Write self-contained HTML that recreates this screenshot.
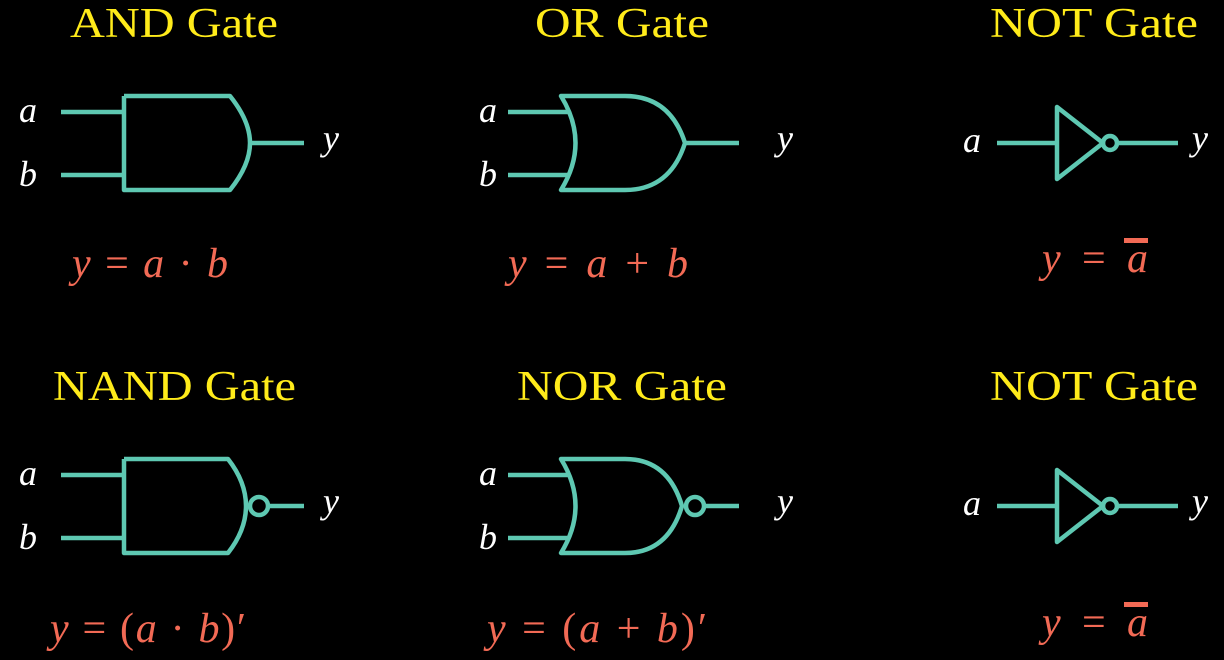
<!DOCTYPE html>
<html><head><meta charset="utf-8"><style>
html,body{margin:0;padding:0;background:#000;}
svg{display:block}
.t{font-family:"Liberation Serif",serif;fill:#ffeb1a;font-size:42px}
.l{font-family:"Liberation Serif",serif;font-style:italic;fill:#fff;font-size:36px;text-anchor:middle}
.e{font-family:"Liberation Serif",serif;fill:#f26a55;font-size:42px}
.g{fill:none;stroke:#5ec8b2;stroke-width:4.5;stroke-linejoin:round}
</style></head><body>
<svg width="1224" height="660" viewBox="0 0 1224 660">
<rect width="1224" height="660" fill="#000"/>
<text class="t" x="70" y="37" textLength="208" lengthAdjust="spacingAndGlyphs">AND Gate</text>
<text class="t" x="535" y="37" textLength="174" lengthAdjust="spacingAndGlyphs">OR Gate</text>
<text class="t" x="990" y="37" textLength="208" lengthAdjust="spacingAndGlyphs">NOT Gate</text>
<text class="t" x="53" y="400" textLength="243" lengthAdjust="spacingAndGlyphs">NAND Gate</text>
<text class="t" x="517" y="400" textLength="210" lengthAdjust="spacingAndGlyphs">NOR Gate</text>
<text class="t" x="990" y="400" textLength="208" lengthAdjust="spacingAndGlyphs">NOT Gate</text>

<!-- AND -->
<g class="g">
<path d="M61 112H124M61 175H124M124 96V190H230Q250 165 250 143Q250 121 230 96H124M250 143H304"/>
</g>
<text class="l" x="28" y="122">a</text><text class="l" x="28" y="186">b</text><text class="l" x="331" y="150">y</text>
<text class="e" x="72" y="277" textLength="156" lengthAdjust="spacing"><tspan font-style="italic">y</tspan> = <tspan font-style="italic">a</tspan> · <tspan font-style="italic">b</tspan></text>

<!-- OR -->
<g class="g">
<path d="M508 112H570M508 175H570M561 96Q590 143 561 190H625Q670 190 685 143Q670 96 625 96Z M685 143H739"/>
</g>
<text class="l" x="488" y="122">a</text><text class="l" x="488" y="186">b</text><text class="l" x="785" y="150">y</text>
<text class="e" x="508" y="277" textLength="180" lengthAdjust="spacing"><tspan font-style="italic">y</tspan> = <tspan font-style="italic">a</tspan> + <tspan font-style="italic">b</tspan></text>

<!-- NOT -->
<g class="g">
<path d="M997 143H1057M1057 107V179L1103 143Z M1117 143H1178"/>
<circle cx="1110" cy="143" r="7"/>
</g>
<text class="l" x="972" y="152">a</text><text class="l" x="1200" y="150">y</text>
<text class="e" x="1042" y="272" textLength="106" lengthAdjust="spacing"><tspan font-style="italic">y</tspan> = <tspan font-style="italic">a</tspan></text>
<rect x="1124" y="238" width="24" height="5" fill="#f26a55"/>

<!-- NAND -->
<g class="g">
<path d="M61 475H124M61 538H124M124 459V553H228Q246 530 246 506Q246 482 228 459H124M268 506H304"/>
<circle cx="259" cy="506" r="9"/>
</g>
<text class="l" x="28" y="485">a</text><text class="l" x="28" y="549">b</text><text class="l" x="331" y="513">y</text>
<text class="e" x="50" y="642" textLength="196" lengthAdjust="spacing"><tspan font-style="italic">y</tspan> = (<tspan font-style="italic">a</tspan> · <tspan font-style="italic">b</tspan>)′</text>

<!-- NOR -->
<g class="g">
<path d="M508 475H570M508 538H570M561 459Q590 506 561 553H625Q668 553 682 506Q668 459 625 459Z M705 506H739"/>
<circle cx="695" cy="506" r="9"/>
</g>
<text class="l" x="488" y="485">a</text><text class="l" x="488" y="549">b</text><text class="l" x="785" y="513">y</text>
<text class="e" x="487" y="642" textLength="220" lengthAdjust="spacing"><tspan font-style="italic">y</tspan> = (<tspan font-style="italic">a</tspan> + <tspan font-style="italic">b</tspan>)′</text>

<!-- NOT 2 -->
<g class="g">
<path d="M997 506H1057M1057 470V542L1103 506Z M1117 506H1178"/>
<circle cx="1110" cy="506" r="7"/>
</g>
<text class="l" x="972" y="515">a</text><text class="l" x="1200" y="513">y</text>
<text class="e" x="1042" y="636" textLength="106" lengthAdjust="spacing"><tspan font-style="italic">y</tspan> = <tspan font-style="italic">a</tspan></text>
<rect x="1124" y="602" width="24" height="5" fill="#f26a55"/>
</svg>
</body></html>
